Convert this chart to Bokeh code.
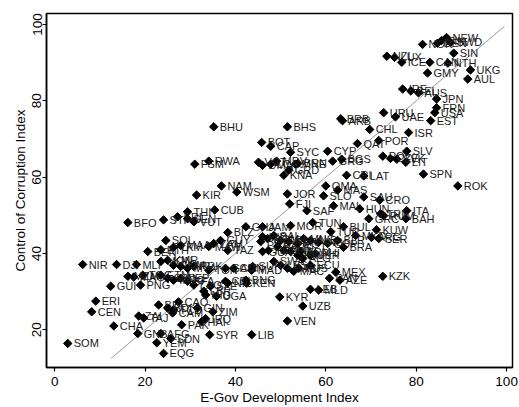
import numpy as np
from bokeh.plotting import figure
from bokeh.models import ColumnDataSource, Range1d, FixedTicker
from bokeh.embed import file_html
from bokeh.resources import INLINE
from bokeh.core.properties import value

codes = ["NEW","FIN","SWD","DEN","NOR","NZL","LUX","ICE","CAN","SIN","NTH","UKG","AUL","GMY",
         "IRE","BEL","AUS","JPN","FRN","USA","EST","SPN","ROK",
         "BHU","BHS","BRB","ARB","URU","UAE","CHL","ISR","QAT","POR","CYP","SLV","POL","CZE","SVK","LIT",
         "GRG","BGS","CRI","LAT","BOT","CAP","SYC","RWA","FSM","VCT","DMA","LCA","BRN","GRD","KNA","MDV","MNE",
         "NAM","WSM","KIR","JOR","FJI","OMA","MAS","SLO","SAU","CRO","MAL","HUN","ITA","TRI","RUM","GRC","BAH","SAF",
         "CUB","BFO","STP","SRI","THI","SEN","VUT","SOL","BUL","MOR","TUN","GHA","JAM","KUW","ARG","SER","BRA","PHI",
         "ARM","ECU","MEX","KZK","PAN","AZE","LEB","MLD","KYR","UZB","VEN","LIB","SYR","ZIM",
         "NIR","DJI","MLI","GUI","PNG","ERI","CEN","CHA","SOM","ZAI","TAJ","GNB","AFG","SDN","YEM","EQG",
         "CAM","BUI","CAO","PAK","HAI","IRQ","LAO","NIG","UGA","NIC","KEN","BLZ","GUY","ZAM","TAZ","BEN","ETH","TKM","MAA",
         "TUR","MKD","IND","BOL","DOM","SAL","COL","PER","EGY","MNG","ALB","INS","COP","BLR","GUA","HON","PAR","CHN",
         "VIE","IRN","ALG","UKR","SWA","LES","GAB","MAC","RUS","SUR","BNG","TON","GAM","CON","MAD","CDI","LBR","SLE",
         "MAW","MZM","MAG","TOG","MON","KMR","COM","ANG","MYA","PRK","ETM","SSD","MDG","NEP","BFA","BDI","TCD","GIN"]
egov = [86.7,85.6,87.6,84.7,81.4,73.5,75.2,76.8,83.0,88.3,87.0,92.0,91.4,82.5,
        77.0,78.8,80.5,84.5,84.5,84.1,83.2,81.6,89.2,
        35.2,51.5,63.3,63.7,72.8,75.4,69.7,78.3,67.0,71.7,60.4,77.9,72.6,74.3,75.7,77.7,
        61.5,63.5,64.6,68.4,45.8,47.8,52.2,34.1,31.0,45.1,46.0,47.8,53.8,51.8,50.7,49.1,53.3,
        36.9,40.3,31.4,51.5,52.0,60.0,62.6,59.5,68.4,71.9,61.7,67.5,77.9,72.1,72.8,69.5,77.7,55.8,
        35.4,16.2,24.1,27.2,29.4,29.4,30.8,24.6,63.9,52.2,57.1,42.3,46.0,71.2,70.1,71.7,63.9,57.7,
        54.4,56.6,62.2,72.6,60.8,63.1,56.6,58.4,49.8,54.9,51.5,43.6,34.3,35.0,
        6.2,13.7,18.1,12.4,19.0,9.1,8.2,13.1,2.9,18.6,19.7,18.4,23.5,25.7,22.6,24.1,
        26.1,23.0,27.4,28.1,32.5,33.4,30.8,33.4,35.8,38.3,42.5,38.3,36.7,35.2,38.3,20.6,23.5,26.3,27.9,
        61.1,66.6,46.0,45.6,47.1,48.5,50.0,51.8,53.8,55.1,56.6,58.4,60.4,62.6,46.0,47.3,49.3,50.7,
        52.2,53.8,54.9,56.6,48.5,50.0,51.5,52.9,54.0,43.8,42.3,34.1,37.8,39.6,43.6,37.8,33.0,34.5,
        34.1,16.2,17.5,19.5,23.5,25.0,26.3,27.9,29.4,30.8,23.5,25.0,26.3,27.9,29.4,25.0,26.3,31.6]
cci = [96.6,95.8,95.3,95.1,94.8,91.7,91.4,90.1,90.1,92.5,89.9,88.1,85.7,87.3,
       83.1,82.6,82.1,80.5,78.2,76.9,74.8,60.8,57.7,
       73.2,73.2,75.3,74.8,76.9,75.8,72.5,71.7,68.8,69.6,66.8,66.8,65.5,64.9,64.7,63.9,
       64.2,64.7,60.5,60.3,69.1,68.1,66.5,64.2,63.4,63.9,63.1,63.4,63.6,61.8,60.5,64.2,63.4,
       57.7,56.1,55.3,55.6,53.0,57.7,56.6,55.1,54.8,54.0,52.5,51.7,51.2,50.4,49.9,49.1,49.1,51.2,
       51.4,48.1,48.8,49.6,50.9,49.1,48.3,43.4,47.0,47.3,48.1,47.0,47.0,46.2,44.2,43.9,41.6,40.0,
       40.5,36.9,35.1,34.0,33.5,33.0,30.6,30.4,28.6,26.2,22.3,18.7,18.7,24.7,
       37.1,37.1,37.1,31.4,31.7,27.5,24.7,21.0,16.4,23.6,23.1,19.0,19.0,17.7,16.6,13.8,
       24.4,26.5,27.3,21.3,22.1,22.9,31.7,29.1,28.8,32.2,32.2,45.5,43.4,42.6,40.8,40.5,41.0,41.6,42.1,
       45.7,44.7,44.4,43.1,43.9,44.7,43.4,43.1,42.6,43.9,43.4,42.9,42.6,43.4,40.5,40.8,41.8,40.8,
       40.5,39.5,38.7,39.5,37.9,36.9,36.1,35.3,36.1,36.6,33.0,35.6,36.1,36.1,35.6,32.7,30.1,31.4,
       41.8,34.0,33.8,34.3,37.9,38.2,36.9,36.6,36.1,36.6,34.3,33.5,33.0,33.5,32.7,25.7,25.2,25.7]

diag = [12.5, 99.5]
x_ticks = [0, 20, 40, 60, 80, 100]
y_ticks = [20, 40, 60, 80, 100]

src = ColumnDataSource(dict(code=codes, egov=egov, cci=cci))

p = figure(width=519, height=407, output_backend="svg", toolbar_location=None,
           x_range=Range1d(-1.8, 101.3), y_range=Range1d(10.1, 102.9),
           min_border_left=46, min_border_right=7, min_border_top=13, min_border_bottom=37,
           background_fill_color="white", border_fill_color="white")
p.grid.visible = False
p.outline_line_color = "black"
p.outline_line_width = 1.5

p.line(diag, diag, line_color="#9a9a9a", line_width=1)
p.scatter("egov", "cci", source=src, marker="square", angle=np.pi/4, size=6,
          fill_color="black", line_color="black")
p.text("egov", "cci", text="code", source=src, x_offset=6, text_baseline="middle",
       text_font=value("Liberation Sans"), text_font_size="11px", text_color="#1a1a1a")

font = "Liberation Sans"
for ax in (p.xaxis[0], p.yaxis[0]):
    ax.axis_line_color = "black"
    ax.axis_line_width = 1.5
    ax.major_tick_line_color = "black"
    ax.major_tick_line_width = 1.2
    ax.major_tick_out = 4
    ax.major_tick_in = 0
    ax.minor_tick_line_color = None
    ax.major_label_text_font = font
    ax.major_label_text_font_size = "13.5px"
    ax.major_label_text_color = "black"
    ax.axis_label_text_font = font
    ax.axis_label_text_font_size = "13.5px"
    ax.axis_label_text_font_style = "normal"
    ax.axis_label_text_color = "black"

p.xaxis[0].major_label_standoff = 5
p.xaxis[0].axis_label_standoff = 1
p.yaxis[0].major_label_standoff = 1
p.yaxis[0].axis_label_standoff = 2
p.xaxis[0].ticker = FixedTicker(ticks=x_ticks)
p.yaxis[0].ticker = FixedTicker(ticks=y_ticks)
p.xaxis[0].axis_label = "E-Gov Development Index"
p.yaxis[0].axis_label = "Control of Corruption Index"
p.yaxis[0].major_label_orientation = "vertical"

open("out.html", "w").write(file_html(p, INLINE))
